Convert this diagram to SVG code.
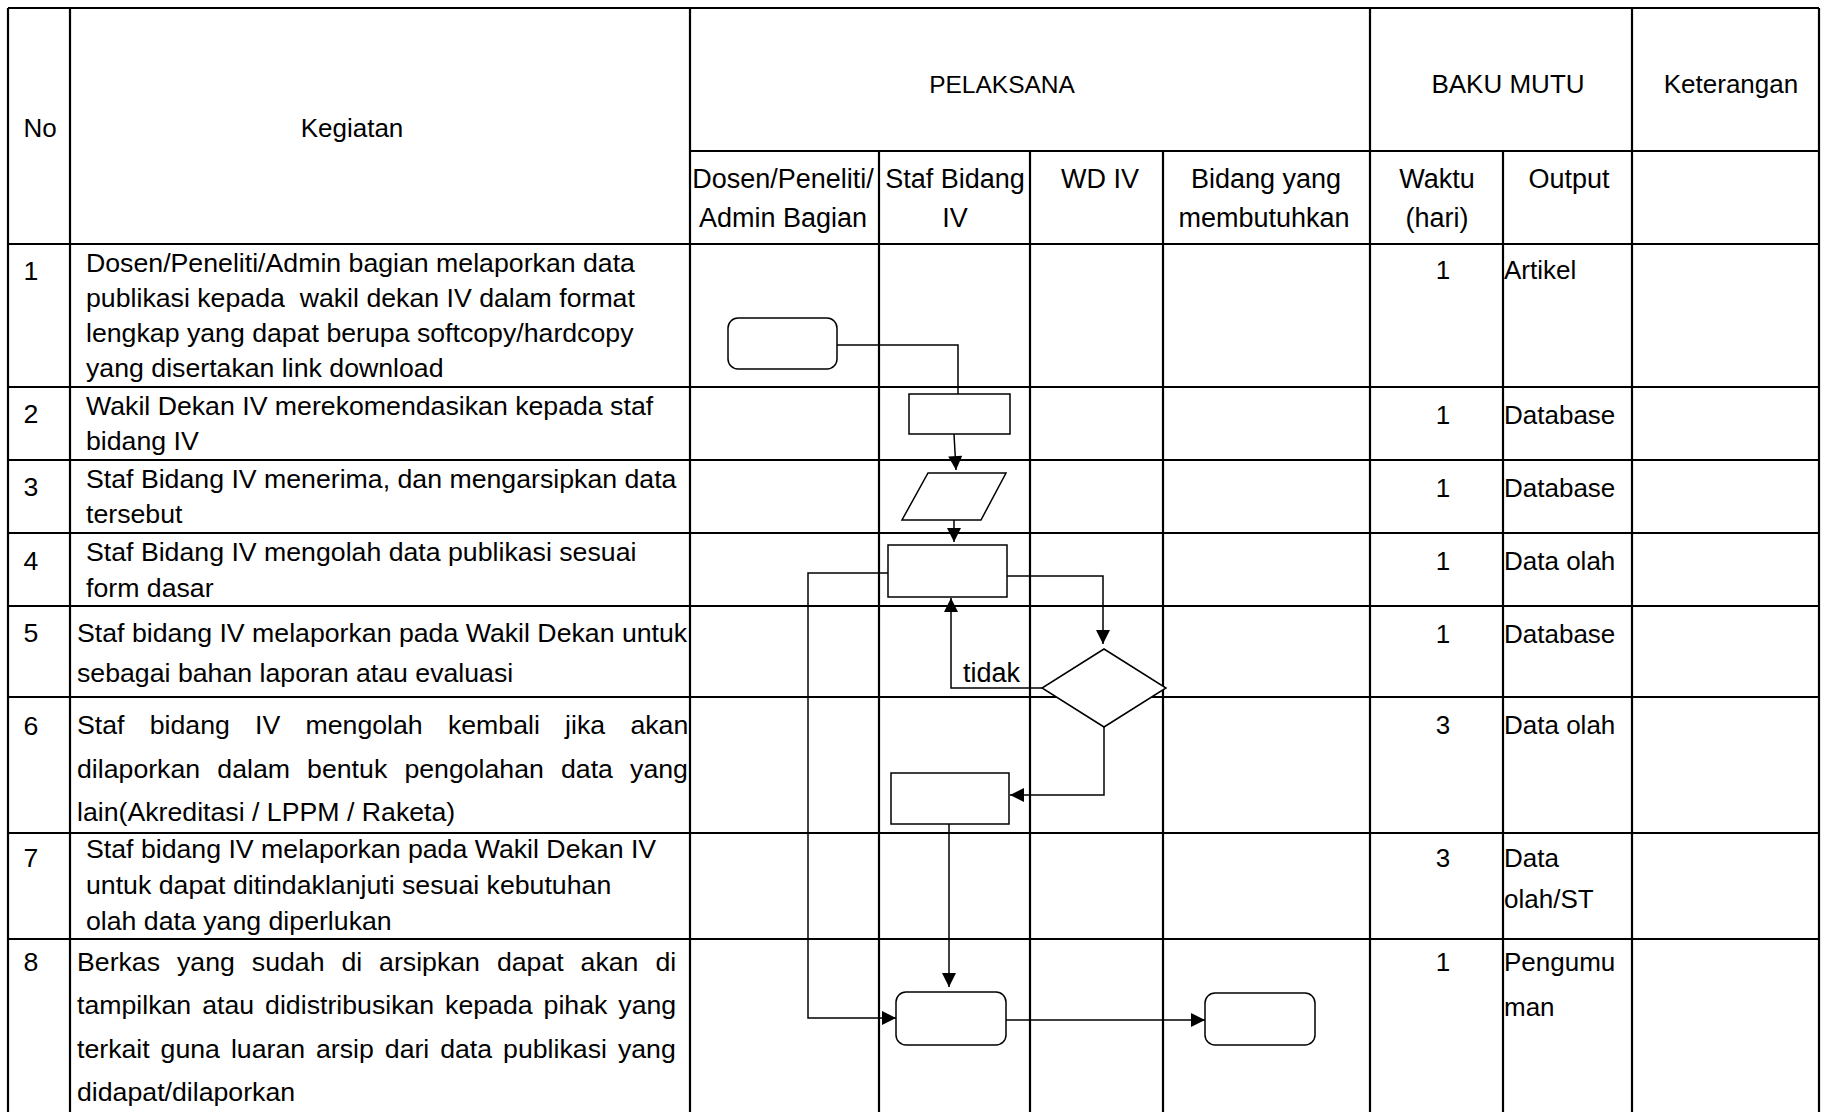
<svg xmlns="http://www.w3.org/2000/svg" width="1822" height="1112" viewBox="0 0 1822 1112">
<style>
.g{stroke:#000;stroke-width:2.2;fill:none}
.s{stroke:#000;stroke-width:1.5;fill:#fff}
.c{stroke:#000;stroke-width:1.5;fill:none}
text{font-family:"Liberation Sans",Arial,sans-serif;fill:#000}
.h{font-size:26px;text-anchor:middle}
.sh{font-size:27px;text-anchor:middle}
.b{font-size:26.7px}
.n{font-size:26.7px;text-anchor:middle}
.r{font-size:26px}
.w{font-size:26px;text-anchor:middle}
.lb{font-size:27px}
</style>
<defs>
<marker id="ah" viewBox="0 0 10 10" refX="10" refY="5" markerWidth="15" markerHeight="14" markerUnits="userSpaceOnUse" orient="auto">
<path d="M0,0 L10,5 L0,10 z" fill="#000"/>
</marker>
</defs>
<rect width="1822" height="1112" fill="#fff"/>

<g id="table" class="g">
<path d="M8,8 H1819 M690,151 H1819 M8,244 H1819 M8,387 H1819 M8,460 H1819 M8,533 H1819 M8,606 H1819 M8,697 H1819 M8,833 H1819 M8,939 H1819"/>
<path d="M8,8 V1112 M70,8 V1112 M690,8 V1112 M879,151 V1112 M1030,151 V1112 M1163,151 V1112 M1370,8 V1112 M1503,151 V1112 M1632,8 V1112 M1819,8 V1112"/>
</g>

<g id="header">
<text class="h" x="40" y="137">No</text>
<text class="h" x="352" y="137">Kegiatan</text>
<text class="h" x="1002" y="93" style="font-size:24.5px">PELAKSANA</text>
<text class="h" x="1508" y="93">BAKU MUTU</text>
<text class="h" x="1731" y="93">Keterangan</text>
<text class="sh" x="783" y="188">Dosen/Peneliti/</text>
<text class="sh" x="783" y="227">Admin Bagian</text>
<text class="sh" x="955" y="188">Staf Bidang</text>
<text class="sh" x="955" y="227">IV</text>
<text class="sh" x="1100" y="188">WD IV</text>
<text class="sh" x="1266" y="188">Bidang yang</text>
<text class="sh" x="1264" y="227">membutuhkan</text>
<text class="sh" x="1437" y="188">Waktu</text>
<text class="sh" x="1437" y="227">(hari)</text>
<text class="sh" x="1569" y="188">Output</text>
</g>

<g id="numbers">
<text class="n" x="31" y="280">1</text>
<text class="n" x="31" y="423">2</text>
<text class="n" x="31" y="496">3</text>
<text class="n" x="31" y="570">4</text>
<text class="n" x="31" y="642">5</text>
<text class="n" x="31" y="735">6</text>
<text class="n" x="31" y="867">7</text>
<text class="n" x="31" y="971">8</text>
</g>

<g id="kegiatan">
<text class="b" x="86" y="272">Dosen/Peneliti/Admin bagian melaporkan data</text>
<text class="b" x="86" y="307" xml:space="preserve">publikasi kepada  wakil dekan IV dalam format</text>
<text class="b" x="86" y="342">lengkap yang dapat berupa softcopy/hardcopy</text>
<text class="b" x="86" y="377">yang disertakan link download</text>
<text class="b" x="86" y="415">Wakil Dekan IV merekomendasikan kepada staf</text>
<text class="b" x="86" y="450">bidang IV</text>
<text class="b" x="86" y="488">Staf Bidang IV menerima, dan mengarsipkan data</text>
<text class="b" x="86" y="523">tersebut</text>
<text class="b" x="86" y="561">Staf Bidang IV mengolah data publikasi sesuai</text>
<text class="b" x="86" y="597">form dasar</text>
<text class="b" x="77" y="642">Staf bidang IV melaporkan pada Wakil Dekan untuk</text>
<text class="b" x="77" y="682">sebagai bahan laporan atau evaluasi</text>
<text class="b" y="734"><tspan x="77">Staf</tspan><tspan x="149.7">bidang</tspan><tspan x="255.1">IV</tspan><tspan x="305.5">mengolah</tspan><tspan x="447.9">kembali</tspan><tspan x="565.1">jika</tspan><tspan x="630.4">akan</tspan></text>
<text class="b" y="778"><tspan x="77">dilaporkan</tspan><tspan x="217.3">dalam</tspan><tspan x="307.1">bentuk</tspan><tspan x="404.4">pengolahan</tspan><tspan x="561">data</tspan><tspan x="630.1">yang</tspan></text>
<text class="b" x="77" y="821">lain(Akreditasi / LPPM / Raketa)</text>
<text class="b" x="86" y="858">Staf bidang IV melaporkan pada Wakil Dekan IV</text>
<text class="b" x="86" y="894">untuk dapat ditindaklanjuti sesuai kebutuhan</text>
<text class="b" x="86" y="930">olah data yang diperlukan</text>
<text class="b" y="971"><tspan x="77">Berkas</tspan><tspan x="177">yang</tspan><tspan x="251.8">sudah</tspan><tspan x="341.4">di</tspan><tspan x="379.1">arsipkan</tspan><tspan x="496.9">dapat</tspan><tspan x="580.6">akan</tspan><tspan x="655.4">di</tspan></text>
<text class="b" y="1014"><tspan x="77">tampilkan</tspan><tspan x="202.2">atau</tspan><tspan x="265.1">didistribusikan</tspan><tspan x="445.1">kepada</tspan><tspan x="543.6">pihak</tspan><tspan x="618.3">yang</tspan></text>
<text class="b" y="1058"><tspan x="77">terkait</tspan><tspan x="160.6">guna</tspan><tspan x="230.9">luaran</tspan><tspan x="316">arsip</tspan><tspan x="384.8">dari</tspan><tspan x="440.2">data</tspan><tspan x="503.1">publikasi</tspan><tspan x="617.9">yang</tspan></text>
<text class="b" x="77" y="1101">didapat/dilaporkan</text>
</g>

<g id="bakumutu">
<text class="w" x="1443" y="279">1</text>
<text class="w" x="1443" y="424">1</text>
<text class="w" x="1443" y="497">1</text>
<text class="w" x="1443" y="570">1</text>
<text class="w" x="1443" y="643">1</text>
<text class="w" x="1443" y="734">3</text>
<text class="w" x="1443" y="867">3</text>
<text class="w" x="1443" y="971">1</text>
<text class="r" x="1504" y="279">Artikel</text>
<text class="r" x="1504" y="424">Database</text>
<text class="r" x="1504" y="497">Database</text>
<text class="r" x="1504" y="570">Data olah</text>
<text class="r" x="1504" y="643">Database</text>
<text class="r" x="1504" y="734">Data olah</text>
<text class="r" x="1504" y="867">Data</text>
<text class="r" x="1504" y="908">olah/ST</text>
<text class="r" x="1504" y="971">Pengumu</text>
<text class="r" x="1504" y="1016">man</text>
</g>

<g id="connectors" class="c">
<path d="M837,345 H958 V394"/>
<path d="M954,434 L956,470" marker-end="url(#ah)"/>
<path d="M954,520 V542" marker-end="url(#ah)"/>
<path d="M888,573 H808 V1018 H896" marker-end="url(#ah)"/>
<path d="M1007,576 H1103 V644" marker-end="url(#ah)"/>
<path d="M1042,688 H951 V598" marker-end="url(#ah)"/>
<path d="M1104,727 V795 H1010" marker-end="url(#ah)"/>
<path d="M949,824 V987" marker-end="url(#ah)"/>
<path d="M1006,1020 H1205" marker-end="url(#ah)"/>
</g>
<text id="label-tidak" class="lb" x="963" y="682">tidak</text>

<g id="node-start"><rect class="s" x="728" y="318" width="109" height="51" rx="10"/></g>
<g id="node-rekomendasi"><rect class="s" x="909" y="394" width="101" height="40"/></g>
<g id="node-terima"><polygon class="s" points="928,473 1006,473 981,520 902,520"/></g>
<g id="node-olah"><rect class="s" x="888" y="545" width="119" height="52"/></g>
<g id="node-decision"><polygon class="s" points="1104,649 1166,688 1104,727 1042,688"/></g>
<g id="node-olah-kembali"><rect class="s" x="891" y="773" width="118" height="51"/></g>
<g id="node-distribusi"><rect class="s" x="896" y="992" width="110" height="53" rx="10"/></g>
<g id="node-end"><rect class="s" x="1205" y="993" width="110" height="52" rx="10"/></g>
</svg>
